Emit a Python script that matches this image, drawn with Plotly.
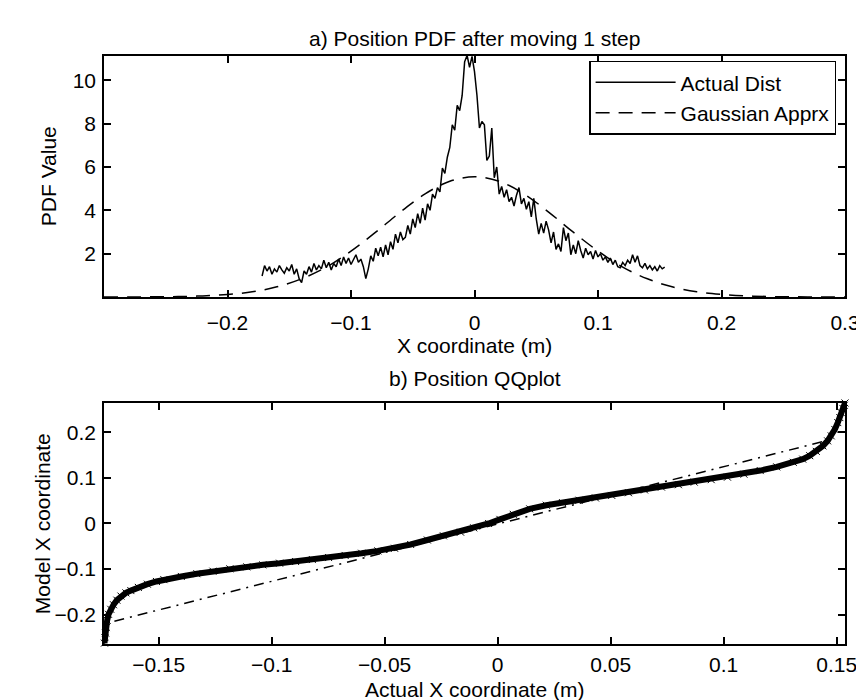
import numpy as np
import plotly.graph_objects as go

# ---------------- data: top panel ----------------
pdf_x = np.round(np.linspace(-0.172, 0.154, 164), 3)
pdf_actual = [
    0.97, 1.45, 1.20, 1.40, 1.05, 1.30, 1.15, 1.45, 1.25, 1.10,
    1.35, 1.20, 1.50, 1.05, 1.30, 0.85, 0.66, 1.20, 1.05, 1.40,
    1.15, 1.55, 1.25, 1.45, 1.30, 1.70, 1.35, 1.60, 1.25, 1.55,
    1.40, 1.75, 1.45, 1.85, 1.55, 1.80, 1.50, 1.70, 1.95, 1.60,
    1.75, 1.40, 0.85, 1.30, 1.90, 1.65, 2.25, 1.90, 2.30, 1.85,
    2.40, 1.95, 2.55, 2.20, 2.90, 2.50, 3.00, 2.65, 2.75, 3.30,
    2.90, 3.60, 3.20, 3.85, 3.40, 4.10, 3.55, 4.30, 4.00, 4.75,
    4.55, 5.05, 4.85, 5.95, 5.70, 6.45, 6.90, 7.95, 7.70, 8.85,
    8.60, 9.30, 10.85, 11.15, 10.60, 11.10, 10.40, 9.30, 7.80, 8.10,
    7.95, 6.30, 6.50, 7.80, 5.50, 6.00, 4.75, 5.10, 4.60, 4.95,
    4.40, 4.60, 4.20, 4.70, 5.05, 4.30, 4.55, 4.05, 4.40, 3.70,
    4.55, 3.60, 2.90, 3.40, 2.95, 3.50, 3.10, 2.50, 3.00, 2.20,
    2.45, 2.10, 3.20, 2.60, 2.95, 1.95, 2.40, 2.00, 2.60, 2.15,
    1.80, 2.25, 1.95, 2.10, 1.75, 2.15, 1.85, 2.00, 1.70, 1.85,
    1.60, 1.80, 1.50, 1.70, 1.40, 1.35, 1.60, 1.45, 1.70, 1.55,
    1.95, 1.60, 1.90, 1.45, 1.35, 1.55, 1.30, 1.45, 1.25, 1.40,
    1.20, 1.45, 1.30, 1.38,
]
gauss_x = [-0.30, -0.28, -0.26, -0.24, -0.22, -0.20, -0.18, -0.16, -0.14, -0.12,
           -0.10, -0.08, -0.06, -0.04, -0.02, 0.00, 0.02, 0.04, 0.06, 0.08,
           0.10, 0.12, 0.14, 0.16, 0.18, 0.20, 0.22, 0.24, 0.26, 0.28, 0.30]
gauss_y = [0.005, 0.003, 0.008, 0.021, 0.052, 0.12, 0.24, 0.47, 0.84, 1.38,
           2.12, 2.99, 3.92, 4.76, 5.34, 5.55, 5.34, 4.76, 3.92, 2.99,
           2.12, 1.38, 0.84, 0.47, 0.24, 0.12, 0.052, 0.021, 0.008, 0.003, 0.005]

# ---------------- data: bottom panel ----------------
qq_actual = [-0.1740, -0.1738, -0.1735, -0.1732, -0.1728, -0.1722, -0.1712, -0.1700,
             -0.1685, -0.1667, -0.1645, -0.1623, -0.1590, -0.1550, -0.1510, -0.1477,
             -0.1400, -0.1331, -0.1260, -0.1185, -0.1110, -0.1039, -0.0965, -0.0894,
             -0.0820, -0.0748, -0.0675, -0.0602, -0.0530, -0.0456, -0.0385, -0.0311,
             -0.0240, -0.0164, -0.0106, -0.0040, 0.0010, 0.0069, 0.0142, 0.0215,
             0.0287, 0.0360, 0.0433, 0.0505, 0.0579, 0.0650, 0.0725, 0.0800,
             0.0870, 0.0945, 0.1017, 0.1090, 0.1162, 0.1235, 0.1308, 0.1350,
             0.1381, 0.1410, 0.1439, 0.1460, 0.1476, 0.1492, 0.1505, 0.1514,
             0.1520, 0.1528, 0.1534, 0.1537]
qq_model = [-0.262, -0.250, -0.240, -0.228, -0.212, -0.199, -0.188, -0.178,
            -0.168, -0.159, -0.152, -0.147, -0.140, -0.133, -0.127, -0.123,
            -0.116, -0.110, -0.1045, -0.0993, -0.095, -0.0906, -0.087, -0.0833,
            -0.079, -0.0746, -0.070, -0.0652, -0.060, -0.0543, -0.046, -0.0362,
            -0.027, -0.019, -0.0095, 0.000, 0.009, 0.020, 0.032, 0.040,
            0.0457, 0.051, 0.0559, 0.0615, 0.0674, 0.0735, 0.0797, 0.085,
            0.0906, 0.096, 0.1015, 0.108, 0.1159, 0.124, 0.134, 0.141,
            0.1485, 0.158, 0.170, 0.181, 0.192, 0.206, 0.221, 0.232,
            0.243, 0.252, 0.259, 0.264]
ref_x = [-0.1696, 0.1483]
ref_y = [-0.214, 0.185]

top_xticks = [-0.2, -0.1, 0, 0.1, 0.2, 0.3]
top_xticktext = ["\u22120.2", "\u22120.1", "0", "0.1", "0.2", "0.3"]
top_yticks = [2, 4, 6, 8, 10]
bot_xticks = [-0.15, -0.1, -0.05, 0, 0.05, 0.1, 0.15]
bot_xticktext = ["\u22120.15", "\u22120.1", "\u22120.05", "0", "0.05", "0.1", "0.15"]
bot_yticks = [-0.2, -0.1, 0, 0.1, 0.2]
bot_yticktext = ["\u22120.2", "\u22120.1", "0", "0.1", "0.2"]

FONT = "Liberation Sans, Arial, Helvetica, sans-serif"

fig = go.Figure()
fig.add_trace(go.Scatter(x=pdf_x, y=pdf_actual, mode="lines", name="Actual Dist",
                         line=dict(color="black", width=1.5), xaxis="x", yaxis="y"))
fig.add_trace(go.Scatter(x=gauss_x, y=gauss_y, mode="lines", name="Gaussian Apprx",
                         line=dict(color="black", width=1.5, dash="14px,9px", shape="spline"),
                         xaxis="x", yaxis="y"))
fig.add_trace(go.Scatter(x=ref_x, y=ref_y, mode="lines", showlegend=False,
                         line=dict(color="black", width=1.5, dash="10px,6px,2px,6px"),
                         xaxis="x2", yaxis="y2"))
fig.add_trace(go.Scatter(x=qq_actual, y=qq_model, mode="lines+markers", showlegend=False,
                         line=dict(color="black", width=6),
                         marker=dict(symbol="x-thin", size=7, color="black",
                                     line=dict(color="black", width=1)),
                         cliponaxis=False, xaxis="x2", yaxis="y2"))

axis_common = dict(showline=True, linecolor="black", linewidth=1.5, mirror="ticks",
                   ticks="inside", ticklen=7, tickwidth=1.5, tickcolor="black",
                   showgrid=False, zeroline=False,
                   tickfont=dict(family=FONT, size=21, color="black"))

fig.update_layout(
    width=864, height=700,
    margin=dict(l=96, r=18, t=48, b=64),
    paper_bgcolor="white", plot_bgcolor="white",
    font=dict(family=FONT, size=21, color="black"),
    xaxis=dict(domain=[0, 1], anchor="y", range=[-0.3, 0.3], ticklabelstandoff=6,
               tickvals=top_xticks, ticktext=top_xticktext, **axis_common),
    yaxis=dict(domain=[0.5901, 1], anchor="x", range=[0, 11.12], ticklabelstandoff=2,
               tickvals=top_yticks, **axis_common),
    xaxis2=dict(domain=[0, 1], anchor="y2", range=[-0.1742, 0.1537], ticklabelstandoff=1,
                tickvals=bot_xticks, ticktext=bot_xticktext, **axis_common),
    yaxis2=dict(domain=[0, 0.4099], anchor="x2", range=[-0.264, 0.264], ticklabelstandoff=2,
                tickvals=bot_yticks, ticktext=bot_yticktext, **axis_common),
    legend=dict(x=0.988, y=0.992, xanchor="right", yanchor="top",
                bgcolor="white", bordercolor="black", borderwidth=1.5,
                font=dict(family=FONT, size=21, color="black"),
                itemwidth=80),
    showlegend=True,
)

annots = [
    dict(text="a) Position PDF after moving 1 step", x=0.5, y=1.0306),
    dict(text="X coordinate (m)", x=0.5, y=0.507),
    dict(text="b) Position QQplot", x=0.5, y=0.452),
    dict(text="Actual X coordinate (m)", x=0.5, y=-0.078),
    dict(text="PDF Value", x=-0.0747, y=0.795, textangle=-90),
    dict(text="Model X coordinate", x=-0.0827, y=0.205, textangle=-90),
]
for a in annots:
    fig.add_annotation(xref="paper", yref="paper", showarrow=False,
                       xanchor="center", yanchor="middle",
                       font=dict(family=FONT, size=21, color="black"), **a)

fig.write_html("out.html")
